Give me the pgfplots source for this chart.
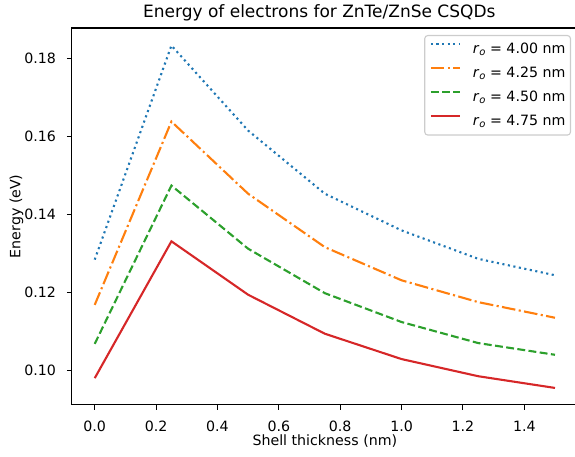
\documentclass[border=0pt]{standalone}
\usepackage{pgfplots}
\pgfplotsset{compat=1.18}
\usepackage{fontspec}
\setmainfont{DejaVu Sans}
\setsansfont{DejaVu Sans}
\definecolor{mplblue}{HTML}{1F77B4}
\definecolor{mplorange}{HTML}{FF7F0E}
\definecolor{mplgreen}{HTML}{2CA02C}
\definecolor{mplred}{HTML}{D62728}
\newcommand{\mfont}{\fontsize{14.2bp}{17bp}\selectfont}
\newcommand{\ro}{\textit{r}\raisebox{-0.28ex}{\fontsize{10bp}{12bp}\selectfont\textit{o}}}
\begin{document}
\begin{tikzpicture}
\begin{axis}[
  at={(0,0)}, anchor=south west,
  scale only axis, width=506.3bp, height=376.7bp,
  xmin=-0.075, xmax=1.575, ymin=0.0912, ymax=0.1878,
  axis line style={line width=1.1bp, black},
  xtick={0,0.2,0.4,0.6,0.8,1.0,1.2,1.4},
  ytick={0.10,0.12,0.14,0.16,0.18},
  xtick pos=bottom, ytick pos=left,
  tick align=outside, major tick length=4.9bp,
  tick style={line width=1.1bp, black},
  /pgf/number format/assume math mode=true,
  xticklabel style={font=\mfont, anchor=base, inner sep=0pt, yshift=-22bp,
    /pgf/number format/.cd, fixed, fixed zerofill, precision=1},
  yticklabel style={font=\mfont, anchor=east, inner sep=0pt, xshift=-10.7bp,
    /pgf/number format/.cd, fixed, fixed zerofill, precision=2},
  scaled y ticks=false,
  title={Energy of electrons for ZnTe/ZnSe CSQDs},
  title style={font=\fontsize{17bp}{20bp}\selectfont, at={(rel axis cs:0.489,1)}, anchor=base, inner sep=0pt, yshift=4.5bp},
  xlabel={Shell thickness (nm)},
  xlabel style={font=\mfont, at={(rel axis cs:0.5,0)}, anchor=base, inner sep=0pt, yshift=-41bp},
  ylabel={Energy (eV)},
  ylabel style={font=\mfont, at={(rel axis cs:-0.1015,0.5)}, anchor=base, inner sep=0pt},
  legend cell align=left,
  legend style={at={(rel axis cs:1,1)}, anchor=north east, xshift=-7bp, yshift=-7bp,
    draw=black!20, line width=1.1bp, rounded corners=3bp, fill=white, fill opacity=0.8, text opacity=1,
    font=\mfont, inner xsep=5bp, inner ysep=7bp, row sep=10.5bp, column sep=11.6bp,
    nodes={inner sep=0pt, text height=10.5bp, text depth=3bp}},
  legend image code/.code={\draw[#1] (0bp,5.2bp) -- (29.4bp,5.2bp);},
  every axis plot/.append style={line width=2.1bp},
]
\addplot[mplblue, dash pattern=on 2.1bp off 3.5bp] coordinates {
 (0,0.1284) (0.25,0.1833) (0.5,0.1615) (0.75,0.1453) (1.0,0.1359) (1.25,0.1286) (1.5,0.1244)};
\addlegendentry{\ro{} = 4.00 nm}
\addplot[mplorange, dash pattern=on 13.6bp off 3.4bp on 2.1bp off 3.4bp] coordinates {
 (0,0.1168) (0.25,0.1638) (0.5,0.1453) (0.75,0.1316) (1.0,0.1231) (1.25,0.1175) (1.5,0.1135)};
\addlegendentry{\ro{} = 4.25 nm}
\addplot[mplgreen, dash pattern=on 7.9bp off 3.4bp] coordinates {
 (0,0.1068) (0.25,0.1474) (0.5,0.1312) (0.75,0.1198) (1.0,0.1124) (1.25,0.1070) (1.5,0.1040)};
\addlegendentry{\ro{} = 4.50 nm}
\addplot[mplred] coordinates {
 (0,0.0980) (0.25,0.1331) (0.5,0.1194) (0.75,0.1094) (1.0,0.1029) (1.25,0.0985) (1.5,0.0955)};
\addlegendentry{\ro{} = 4.75 nm}
\end{axis}
\pgfresetboundingbox
\path[use as bounding box] (-71.7bp,-52.3bp) rectangle (503.3bp,404.7bp);
\end{tikzpicture}
\end{document}
